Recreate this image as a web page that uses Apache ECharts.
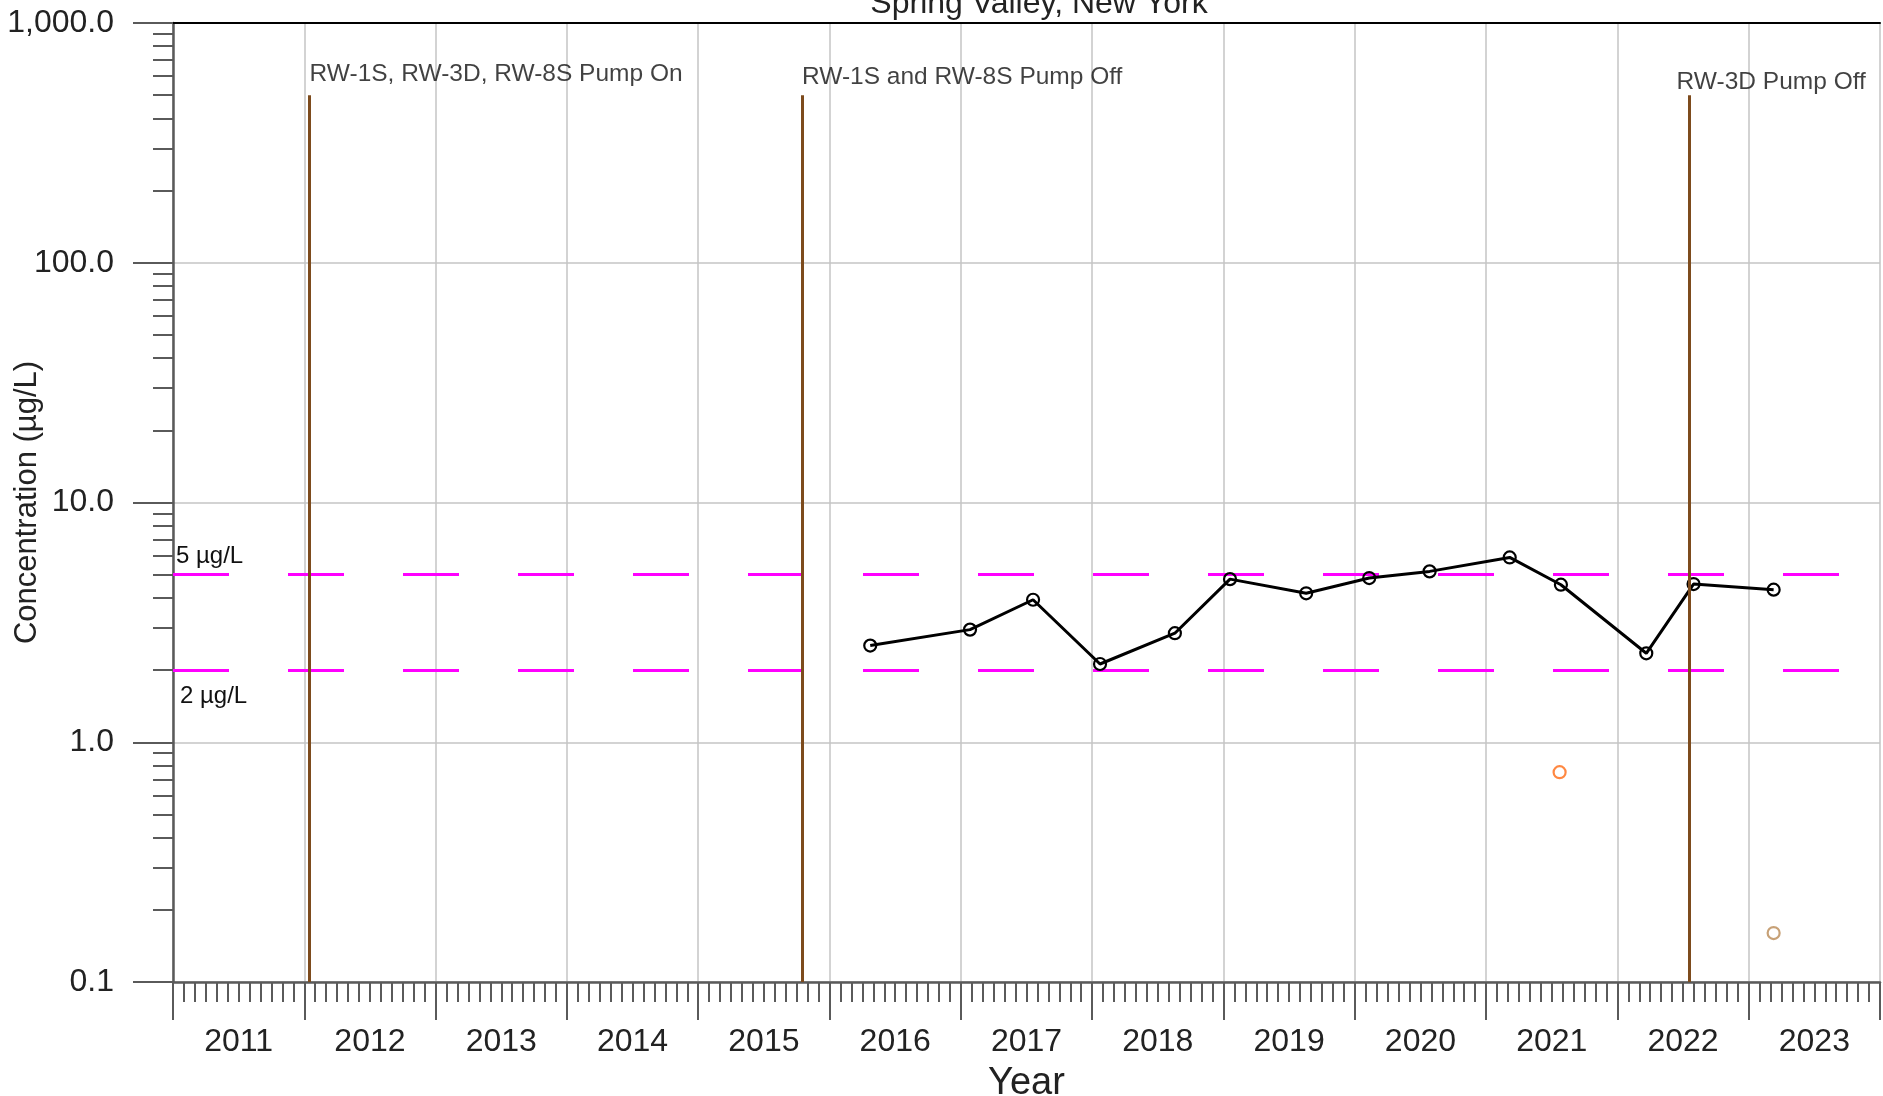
<!DOCTYPE html>
<html>
<head>
<meta charset="utf-8">
<script src="https://cdn.jsdelivr.net/npm/echarts@6/dist/echarts.min.js"></script>
<style>
html,body{margin:0;padding:0;background:#fff;}
#chart{width:1883px;height:1096px;}
</style>
</head>
<body>
<div id="chart"></div>
<script>
// ---- data ----
const titleText = 'Spring Valley, New York';
const sampleDates = [2016.31, 2017.07, 2017.55, 2018.06, 2018.63, 2019.05, 2019.63, 2020.11, 2020.57, 2021.18, 2021.57, 2022.22, 2022.58, 2023.19];
const sampleValues = [2.53, 2.95, 3.93, 2.12, 2.85, 4.79, 4.18, 4.84, 5.16, 5.90, 4.54, 2.35, 4.57, 4.33];
const orangeDates = [2021.56];
const orangeValues = [0.75];
const tanDates = [2023.19];
const tanValues = [0.16];
const eventDates = [2012.04, 2015.79, 2022.55];
const eventLabels = ['RW-1S, RW-3D, RW-8S Pump On', 'RW-1S and RW-8S Pump Off', 'RW-3D Pump Off'];
const eventTop = 500;
const thresholdValues = [5, 2];
const thresholdLabels = ['5 µg/L', '2 µg/L'];
const xYears = ['2011','2012','2013','2014','2015','2016','2017','2018','2019','2020','2021','2022','2023'];
const yTickValues = [0.1, 1, 10, 100, 1000];
const yTickLabels = ['0.1', '1.0', '10.0', '100.0', '1,000.0'];
const yMinorValues = [0.2,0.3,0.4,0.5,0.6,0.7,0.8,0.9, 2,3,4,5,6,7,8,9, 20,30,40,50,60,70,80,90, 200,300,400,500,600,700,800,900];

// ---- chart ----
const FONT = '"Liberation Sans", Arial, sans-serif';
const AX = '#5a5a5a';
const xMin = 2011, xMax = 2024;
const chart = echarts.init(document.getElementById('chart'), null, {renderer: 'canvas'});

const eventLabelStyle = [
  {offset: [0, -21]},
  {offset: [0, -18]},
  {offset: [-13, -13]}
];

const option = {
  animation: false,
  backgroundColor: '#ffffff',
  textStyle: {fontFamily: FONT},
  graphic: [{
    type: 'text', x: 1039, y: 20, z: 100,
    style: {text: titleText, font: '32px ' + FONT, fill: '#222', align: 'center', verticalAlign: 'bottom'}
  }],
  grid: {left: 173, right: 3, top: 23, bottom: 114, containLabel: false, outerBoundsMode: 'none'},
  xAxis: [{
    type: 'value', min: xMin, max: xMax, interval: 1, position: 'bottom',
    name: 'Year', nameLocation: 'middle', nameGap: 83, nameMoveOverlap: false,
    nameTextStyle: {fontSize: 38, color: '#222', fontFamily: FONT},
    axisLine: {show: true, onZero: false, lineStyle: {color: AX, width: 2.5}},
    axisTick: {show: true, length: 38, lineStyle: {color: AX, width: 2}},
    minorTick: {show: true, splitNumber: 12, length: 20, lineStyle: {color: AX, width: 2}},
    splitLine: {show: true, lineStyle: {color: '#c4c4c4', width: 1.5}},
    minorSplitLine: {show: false},
    axisLabel: {
      show: true, margin: 44, fontSize: 32, color: '#222', fontFamily: FONT,
      customValues: xYears.map(y => Number(y) + 0.5),
      formatter: v => String(Math.floor(v))
    }
  }, {
    type: 'value', min: xMin, max: xMax, position: 'top',
    axisLine: {show: true, onZero: false, lineStyle: {color: '#000', width: 2}},
    axisTick: {show: false}, axisLabel: {show: false}, splitLine: {show: false}
  }],
  yAxis: [{
    type: 'log', logBase: 10, min: 0.1, max: 1000, position: 'left',
    name: 'Concentration (µg/L)', nameLocation: 'middle', nameGap: 130, nameMoveOverlap: false,
    nameTextStyle: {fontSize: 31, color: '#222', fontFamily: FONT},
    axisLine: {show: true, onZero: false, lineStyle: {color: AX, width: 2.5}},
    axisTick: {show: true, length: 40, lineStyle: {color: AX, width: 2}},
    splitLine: {show: true, lineStyle: {color: '#c4c4c4', width: 1.5}},
    axisLabel: {
      margin: 59, fontSize: 32, color: '#222', fontFamily: FONT,
      formatter: v => {
        const i = yTickValues.findIndex(t => Math.abs(Math.log10(t) - Math.log10(v)) < 1e-6);
        return i >= 0 ? yTickLabels[i] : '';
      }
    }
  }, {
    type: 'value', min: -1, max: 3, interval: 1, position: 'left',
    axisLine: {show: false},
    axisTick: {show: true, length: 20, lineStyle: {color: AX, width: 2}, customValues: yMinorValues.map(v => Math.log10(v))},
    axisLabel: {show: false}, splitLine: {show: false}
  }],
  series: [
    {
      name: 'thresholds', type: 'line', data: [], xAxisIndex: 0, yAxisIndex: 0, silent: true,
      markLine: {
        silent: true, symbol: ['none', 'none'], z: 3,
        lineStyle: {color: '#ff00ff', width: 3, type: [56, 59], dashOffset: 0},
        data: thresholdValues.map((v, i) => ({
          yAxis: v, name: thresholdLabels[i],
          label: {
            show: true, formatter: '{b}', fontSize: 24, color: '#111', fontFamily: FONT,
            position: i === 0 ? 'insideStartTop' : 'insideStartBottom',
            distance: i === 0 ? [3, 6] : [7, 14]
          }
        }))
      }
    },
    {
      name: 'sample', type: 'line', xAxisIndex: 0, yAxisIndex: 0, z: 5,
      data: sampleDates.map((d, i) => [d, sampleValues[i]]),
      symbol: 'circle', symbolSize: 12, showSymbol: true,
      lineStyle: {color: '#000', width: 3},
      itemStyle: {color: 'rgba(255,255,255,0)', borderColor: '#000', borderWidth: 2.2}
    },
    {
      name: 'orange', type: 'scatter', xAxisIndex: 0, yAxisIndex: 0, z: 5,
      data: orangeDates.map((d, i) => [d, orangeValues[i]]),
      symbol: 'circle', symbolSize: 12,
      itemStyle: {color: 'rgba(255,255,255,0)', borderColor: '#ff6a13', borderWidth: 2.2}
    },
    {
      name: 'tan', type: 'scatter', xAxisIndex: 0, yAxisIndex: 0, z: 5,
      data: tanDates.map((d, i) => [d, tanValues[i]]),
      symbol: 'circle', symbolSize: 12,
      itemStyle: {color: 'rgba(255,255,255,0)', borderColor: '#b98a55', borderWidth: 2.2}
    },
    {
      name: 'events', type: 'scatter', xAxisIndex: 0, yAxisIndex: 0, z: 6,
      symbolSize: 0, silent: true,
      data: eventDates.map((d, i) => ({
        value: [d, eventTop], name: eventLabels[i],
        label: {
          show: true, formatter: '{b}', position: 'inside', align: 'left', verticalAlign: 'middle',
          fontSize: 24.5, color: '#111', fontFamily: FONT, offset: eventLabelStyle[i].offset
        }
      })),
      markLine: {
        silent: true, symbol: ['none', 'none'], z: 7,
        lineStyle: {color: '#7d4b1d', width: 3, type: 'solid'},
        label: {show: false},
        data: eventDates.map(d => [{coord: [d, 0.1]}, {coord: [d, eventTop]}])
      }
    }
  ]
};
chart.setOption(option);
</script>
</body>
</html>
